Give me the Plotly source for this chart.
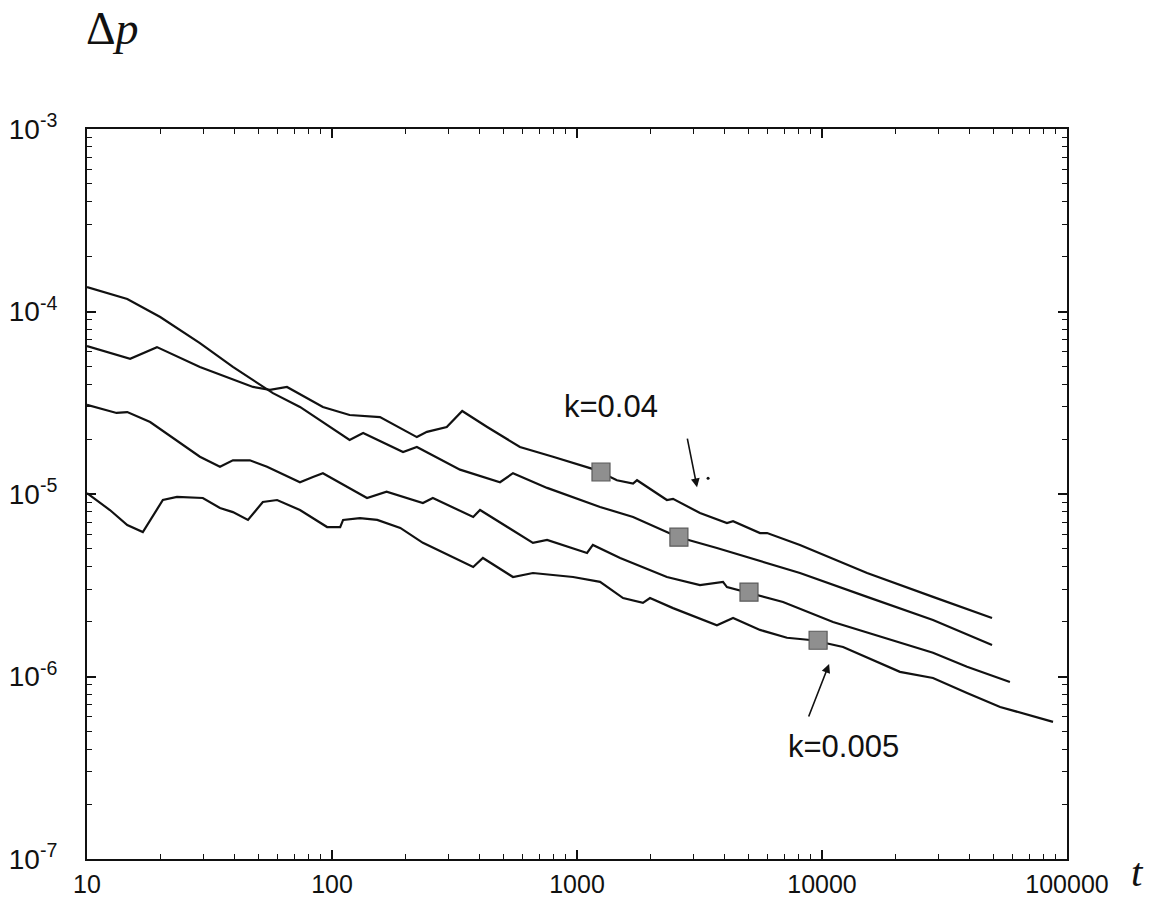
import numpy as np
import plotly.graph_objects as go

# ---- data ----
t_k004 = [10, 15.0, 19.3, 28.9, 47.6, 55.8, 65.5, 79.1, 91.8, 118, 157, 222, 244, 294, 340,
          430, 585, 798, 1183, 1455, 1694, 1758, 2328, 2466, 3177, 4093, 4335, 5585, 5970,
          8128, 15280, 28380, 49430]
p_k004 = [6.47e-5, 5.50e-5, 6.38e-5, 4.97e-5, 3.86e-5, 3.72e-5, 3.86e-5, 3.36e-5, 3.00e-5,
          2.71e-5, 2.64e-5, 2.05e-5, 2.19e-5, 2.33e-5, 2.85e-5, 2.33e-5, 1.81e-5, 1.60e-5,
          1.36e-5, 1.19e-5, 1.14e-5, 1.19e-5, 9.27e-6, 9.40e-6, 7.87e-6, 6.93e-6, 7.10e-6,
          6.11e-6, 6.11e-6, 5.26e-6, 3.69e-6, 2.73e-6, 2.09e-6]

t_k002 = [10, 14.6, 19.9, 28.9, 39.4, 57.4, 74.0, 118, 134, 195, 222, 333, 485, 548, 755,
          1242, 1694, 2582, 3724, 5970, 8128, 15280, 28380, 49430]
p_k002 = [1.36e-4, 1.17e-4, 9.33e-5, 6.71e-5, 4.97e-5, 3.57e-5, 3.00e-5, 1.98e-5, 2.16e-5,
          1.70e-5, 1.81e-5, 1.36e-5, 1.16e-5, 1.30e-5, 1.08e-5, 8.49e-6, 7.48e-6, 5.81e-6,
          5.06e-6, 4.19e-6, 3.69e-6, 2.73e-6, 2.04e-6, 1.49e-6]

t_k001 = [10, 13.2, 14.6, 18.1, 28.9, 34.9, 39.4, 46.2, 54.3, 74.0, 83.6, 91.8, 139, 167,
          235, 258, 377, 402, 661, 755, 1099, 1161, 1500, 2328, 3177, 3945, 4093, 6934,
          11092, 17740, 28380, 39080, 58480]
p_k001 = [3.08e-5, 2.78e-5, 2.81e-5, 2.48e-5, 1.60e-5, 1.41e-5, 1.53e-5, 1.53e-5, 1.41e-5,
          1.16e-5, 1.24e-5, 1.30e-5, 9.51e-6, 1.03e-5, 8.93e-6, 9.51e-6, 7.48e-6, 8.17e-6,
          5.40e-6, 5.60e-6, 4.75e-6, 5.26e-6, 4.46e-6, 3.51e-6, 3.17e-6, 3.30e-6, 3.09e-6,
          2.56e-6, 1.99e-6, 1.64e-6, 1.35e-6, 1.13e-6, 9.33e-7]

t_k0005 = [10, 12.4, 14.6, 16.9, 20.4, 23.3, 29.7, 34.9, 39.4, 45.4, 52.2, 59.7, 74.0, 95.5,
           108, 111, 130, 153, 190, 235, 377, 413, 548, 661, 964, 1242, 1542, 1858, 1986,
           2466, 3724, 4335, 5585, 7194, 9183, 12190, 20800, 28380, 39080, 53330, 87700]
p_k0005 = [1.01e-5, 8.17e-6, 6.76e-6, 6.19e-6, 9.27e-6, 9.64e-6, 9.51e-6, 8.38e-6, 7.96e-6,
           7.21e-6, 9.04e-6, 9.27e-6, 8.17e-6, 6.59e-6, 6.59e-6, 7.21e-6, 7.38e-6, 7.21e-6,
           6.52e-6, 5.40e-6, 3.98e-6, 4.46e-6, 3.51e-6, 3.69e-6, 3.51e-6, 3.30e-6, 2.69e-6,
           2.53e-6, 2.69e-6, 2.37e-6, 1.91e-6, 2.09e-6, 1.80e-6, 1.63e-6, 1.58e-6, 1.45e-6,
           1.06e-6, 9.82e-7, 8.13e-7, 6.81e-7, 5.64e-7]

marker_t = [1253, 2606, 5035, 9640]
marker_p = [1.32e-5, 5.8e-6, 2.9e-6, 1.58e-6]

x_tickvals = [10, 100, 1000, 10000, 100000]
x_ticktext = ["10", "100", "1000", "10000", "100000"]
y_tickvals = [1e-7, 1e-6, 1e-5, 1e-4, 1e-3]
y_ticktext = ["10<sup>-7</sup>", "10<sup>-6</sup>", "10<sup>-5</sup>",
              "10<sup>-4</sup>", "10<sup>-3</sup>"]

label_k004 = "k=0.04"
label_k0005 = "k=0.005"

# ---- figure ----
fig = go.Figure()
line_style = dict(color="#111111", width=2.2)
for tt, pp in [(t_k004, p_k004), (t_k002, p_k002), (t_k001, p_k001), (t_k0005, p_k0005)]:
    fig.add_trace(go.Scatter(x=tt, y=pp, mode="lines", line=line_style,
                             showlegend=False, hoverinfo="skip"))

fig.add_trace(go.Scatter(x=marker_t, y=marker_p, mode="markers",
                         marker=dict(symbol="square", size=18, color="#8f8f8f",
                                     line=dict(color="#5a5a5a", width=1.2)),
                         showlegend=False, hoverinfo="skip"))
# small stray dot near the upper arrow
fig.add_trace(go.Scatter(x=[3428], y=[1.22e-5], mode="markers",
                         marker=dict(size=3, color="#111111"),
                         showlegend=False, hoverinfo="skip"))
# empty trace that carries the mirrored (top/right) tick axes
fig.add_trace(go.Scatter(x=[None], y=[None], xaxis="x2", yaxis="y2", mode="lines",
                         showlegend=False, hoverinfo="skip"))

font_sans = "Arial"
tick_common = dict(
    type="log", showgrid=False, zeroline=False, automargin=False,
    ticks="inside", ticklen=9, tickwidth=1.6, tickcolor="#111111",
    minor=dict(ticks="inside", ticklen=5, tickwidth=1.3, tickcolor="#111111",
               dtick="D1", showgrid=False),
)

fig.update_layout(
    font=dict(family=font_sans, size=25, color="#111111"),
    xaxis=dict(**tick_common, range=[1, 5], tickvals=x_tickvals, ticktext=x_ticktext,
               showline=True, linecolor="#111111", linewidth=2, mirror=True,
               tickfont=dict(family=font_sans, size=25, color="#111111"),
               ticklabelstandoff=2),
    yaxis=dict(**tick_common, range=[-7, -3], tickvals=y_tickvals, ticktext=y_ticktext,
               showline=True, linecolor="#111111", linewidth=2, mirror=True,
               tickfont=dict(family=font_sans, size=28, color="#111111"),
               ticklabelstandoff=22),
    xaxis2=dict(**tick_common, range=[1, 5], tickvals=x_tickvals, overlaying="x",
                side="top", anchor="y2", showticklabels=False, showline=False),
    yaxis2=dict(**tick_common, range=[-7, -3], tickvals=y_tickvals, overlaying="y",
                side="right", anchor="x2", showticklabels=False, showline=False),
)

ann_font = dict(family=font_sans, size=31, color="#111111")
fig.add_annotation(x=np.log10(1377), y=np.log10(3.03e-5), text=label_k004,
                   showarrow=False, font=ann_font)
fig.add_annotation(x=np.log10(3090), y=np.log10(1.09e-5), text="", showarrow=True,
                   ax=-10, ay=-50, arrowhead=2, arrowsize=1.1, arrowwidth=1.6,
                   arrowcolor="#111111")
fig.add_annotation(x=np.log10(12190), y=np.log10(4.11e-7), text=label_k0005,
                   showarrow=False, font=ann_font)
fig.add_annotation(x=np.log10(10690), y=np.log10(1.17e-6), text="", showarrow=True,
                   ax=-21, ay=54, arrowhead=2, arrowsize=1.1, arrowwidth=1.6,
                   arrowcolor="#111111")

serif = "Liberation Serif"
fig.add_annotation(xref="paper", yref="paper", x=0.0265, y=1.1753, text="Δ<i>p</i>",
                   showarrow=False, xanchor="center", yanchor="top",
                   font=dict(family=serif, size=46, color="#111111"))
fig.add_annotation(xref="paper", yref="paper", x=1.072, y=-0.0515, text="<i>t</i>",
                   showarrow=False, xanchor="center", yanchor="bottom",
                   font=dict(family=serif, size=41, color="#111111"))

fig.update_layout(
    width=1155, height=898,
    margin=dict(l=87, r=88, t=129, b=39, autoexpand=False),
    paper_bgcolor="white", plot_bgcolor="white",
    showlegend=False,
)

fig.write_html("out.html")
